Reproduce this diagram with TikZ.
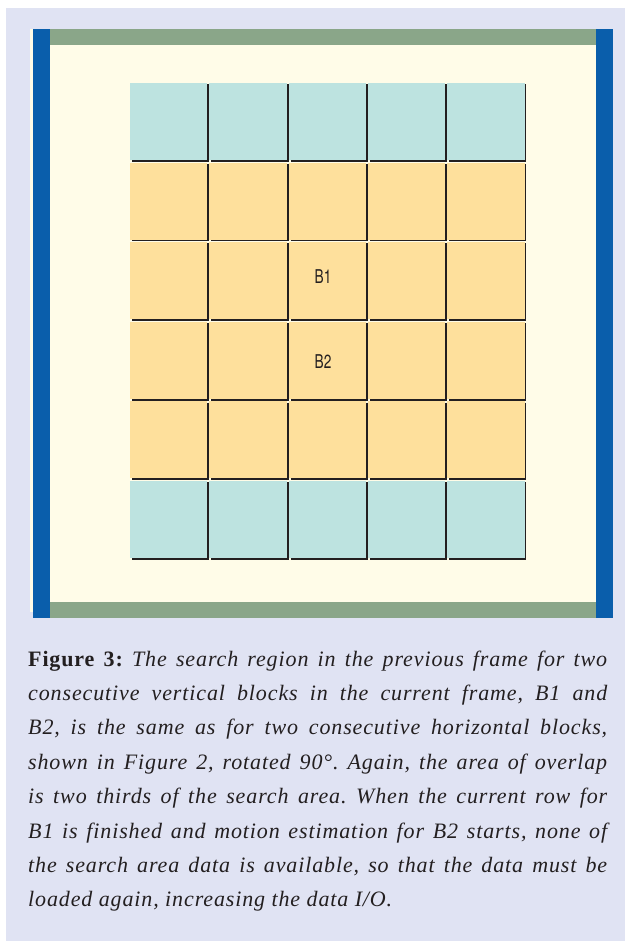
\documentclass[tikz,border=0pt]{standalone}
\usepackage{fontspec}
\setmainfont{Liberation Serif}[LetterSpace=4]
\newfontfamily\labelfont[FakeStretch=0.72]{TeX Gyre Heros}
\definecolor{pagebg}{HTML}{E0E3F3}
\definecolor{panel}{HTML}{FFFCE8}
\definecolor{sidebar}{HTML}{0A5EAB}
\definecolor{topbar}{HTML}{8AA689}
\definecolor{outerblk}{HTML}{BDE3E0}
\definecolor{innerblk}{HTML}{FEE09C}
\definecolor{ink}{HTML}{231F20}
\tikzset{
  blk/.style={draw=none, inner sep=0pt, outer sep=0pt, anchor=north west,
    minimum width=77.4pt, minimum height=77pt},
  outerc/.style={blk, fill=outerblk},
  innerc/.style={blk, fill=innerblk},
  shadowline/.style={draw=ink, line width=1.8pt, line cap=butt},
  blklabel/.style={font=\labelfont\fontsize{19}{19}\selectfont, text=ink, inner sep=0pt},
  capline/.style={anchor=base west, inner sep=0pt, text=ink,
    font=\fontsize{22}{22}\selectfont\itshape},
}
\newcommand{\jline}[1]{\makebox[579pt][s]{#1}}
\frenchspacing
\begin{document}
\begin{tikzpicture}[x=1pt,y=-1pt]
  \useasboundingbox (0,0) rectangle (625,941);
  % page background
  \fill[pagebg] (6,8) rectangle (625,941);
  % framed panel
  \fill[panel] (30,29) rectangle (596,612);
  \fill[topbar] (50,29) rectangle (596,45);
  \fill[topbar] (50,602) rectangle (596,618);
  \fill[sidebar] (33,29) rectangle (50,618);
  \fill[sidebar] (596,29) rectangle (613,618);
  % grid of blocks: rows 0 and 5 outer, rows 1-4 inner
  \foreach \r in {0,...,5}{
    \foreach \c in {0,...,4}{
      \ifnum\r=0 \def\kind{outerc}\else\ifnum\r=5 \def\kind{outerc}\else\def\kind{innerc}\fi\fi
      \node[\kind] (b-\r-\c) at ({130+79.3*\c},{83+79.6*\r}) {};
      \draw[shadowline] ([shift={(0.9,1.2)}]b-\r-\c.north east) -- ([shift={(0.9,1.8)}]b-\r-\c.south east);
      \draw[shadowline] ([shift={(2,0.9)}]b-\r-\c.south west) -- ([shift={(1.8,0.9)}]b-\r-\c.south east);
    }
  }
  \node[blklabel] (lbB1) at (323,277) {B1};
  \node[blklabel] (lbB2) at (323,362) {B2};
  % caption
  \node[capline] (cap1) at (28,666) {\jline{{\upshape\bfseries Figure 3:} The search region in the previous frame for two}};
  \node[capline] (cap2) at (28,700.4) {\jline{consecutive vertical blocks in the current frame, B1 and}};
  \node[capline] (cap3) at (28,734.8) {\jline{B2, is the same as for two consecutive horizontal blocks,}};
  \node[capline] (cap4) at (28,769.2) {\jline{shown in Figure 2, rotated 90°. Again, the area of overlap}};
  \node[capline] (cap5) at (28,803.6) {\jline{is two thirds of the search area. When the current row for}};
  \node[capline] (cap6) at (28,838) {\jline{B1 is finished and motion estimation for B2 starts, none of}};
  \node[capline] (cap7) at (28,872.4) {\jline{the search area data is available, so that the data must be}};
  \node[capline] (cap8) at (28,906.8) {loaded again, increasing the data I/O.};
\end{tikzpicture}
\end{document}
